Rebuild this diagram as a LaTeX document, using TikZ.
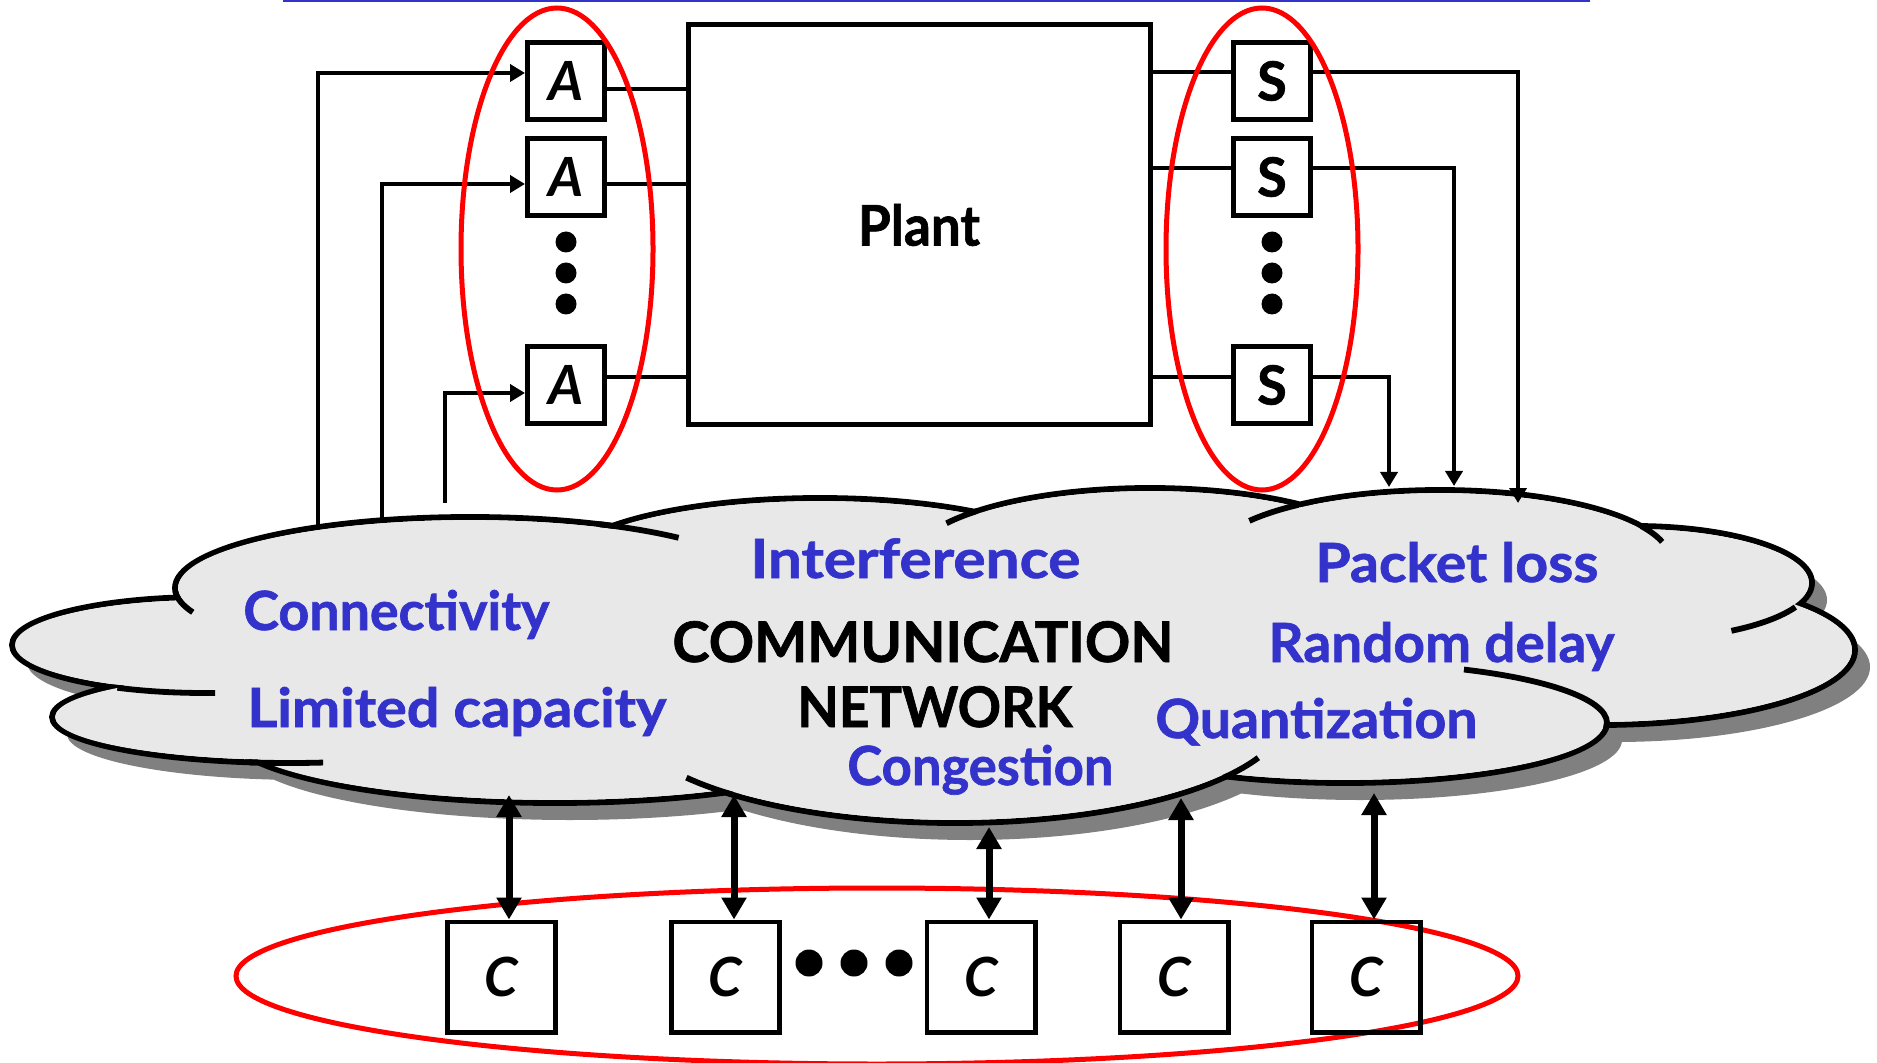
\documentclass[tikz,border=0pt]{standalone}
\usepackage{fontspec}
\usepackage{graphicx}
\setmainfont{Lato}[BoldFeatures={FakeBold=1.2}]
\usetikzlibrary{arrows.meta}
\definecolor{tblue}{RGB}{51,51,204}
\definecolor{cloudfill}{RGB}{232,232,232}
\definecolor{cloudshadow}{RGB}{128,128,128}
\newsavebox\fitbox
\newcommand\fitw[2]{\sbox\fitbox{#2}\pgfmathsetmacro\fitsx{#1/\the\wd\fitbox}\scalebox{\fitsx}[1]{\usebox\fitbox}}
\newcommand\cloudlobes[2]{\path[#1]
 (470,588) ellipse [x radius=295-#2,y radius=71-#2]
 (205,645) ellipse [x radius=193-#2,y radius=48-#2]
 (290,717) ellipse [x radius=238-#2,y radius=46-#2]
 (555,730) ellipse [x radius=331-#2,y radius=73-#2]
 (955,713) ellipse [x radius=332-#2,y radius=110-#2]
 (1345,723) ellipse [x radius=262-#2,y radius=60-#2]
 (1600,650) ellipse [x radius=255-#2,y radius=75-#2]
 (1635,583) ellipse [x radius=177-#2,y radius=57-#2]
 (1440,560) ellipse [x radius=230-#2,y radius=70-#2]
 (1150,563) ellipse [x radius=240-#2,y radius=75-#2]
 (820,568) ellipse [x radius=260-#2,y radius=70-#2];}
\newcommand\cloudcore[1]{\path[#1] (195,605) -- (120,690) -- (265,750) -- (713,780) -- (1233,758) -- (1595,712) -- (1780,611) -- (1646,543) -- (1283,518) -- (967,526) -- (610,540) -- cycle;}
\newcommand\cloudtail[6]{\draw[cloudline] (#1,#2) ++(#5:#3 and #4) arc[start angle=#5, end angle=#6, x radius=#3, y radius=#4];}
\begin{document}
\begin{tikzpicture}[x=0.5pt,y=-0.5pt,
  bigfont/.style={font=\fontsize{27}{30}\selectfont\bfseries},
  abox/.style={draw, line width=2.3pt, minimum size=38.7pt, inner sep=0pt, bigfont},
  cbox/.style={draw, line width=2.3pt, minimum width=54.2pt, minimum height=55.2pt, inner sep=0pt, bigfont},
  plantbox/.style={draw, line width=2.5pt, minimum width=231pt, minimum height=200pt, inner sep=0pt, font=\fontsize{28}{30}\selectfont\bfseries},
  wire/.style={line width=2.2pt},
  arr/.style={wire, -{Triangle[length=7.5pt,width=8.5pt]}},
  bigarr/.style={line width=3.5pt, {Triangle[length=11pt,width=12pt]}-{Triangle[length=11pt,width=12pt]}},
  redring/.style={draw=red, line width=2.5pt},
  smalldot/.style={circle, fill=black, inner sep=0pt, minimum size=10.5pt},
  cdot/.style={circle, fill=black, inner sep=0pt, minimum size=13.5pt},
  cloudline/.style={line width=2.9pt},
  lbl/.style={anchor=base west, inner sep=0pt, text=tblue, font=\fontsize{27}{30}\selectfont\bfseries},
  blk/.style={anchor=base west, inner sep=0pt, text=black, font=\fontsize{28}{30}\selectfont\bfseries}]
\useasboundingbox (0,0) rectangle (1877,1063);
% top rule
\draw[tblue, line width=1.2pt] (283,1) -- (1590,1);
% plant, actuators, sensors
\node[plantbox] (plant) at (919,225) {\fitw{61pt}{Plant}};
\node[abox] (A1) at (566,81) {\itshape A};
\node[abox] (A2) at (566,177) {\itshape A};
\node[abox] (A3) at (566,385) {\itshape A};
\node[abox] (S1) at (1272,81) {S};
\node[abox] (S2) at (1272,177) {S};
\node[abox] (S3) at (1272,385) {S};
\node[smalldot] (da1) at (566,242) {};
\node[smalldot] (da2) at (566,273) {};
\node[smalldot] (da3) at (566,304) {};
\node[smalldot] (ds1) at (1272,242) {};
\node[smalldot] (ds2) at (1272,273) {};
\node[smalldot] (ds3) at (1272,304) {};
\draw[wire] ([yshift=-4pt]A1.east) -- ([yshift=-4pt]A1.east -| plant.west);
\draw[wire] ([yshift=-3.5pt]A2.east) -- ([yshift=-3.5pt]A2.east -| plant.west);
\draw[wire] ([yshift=4pt]A3.east) -- ([yshift=4pt]A3.east -| plant.west);
\draw[wire] ([yshift=4.5pt]S1.west -| plant.east) -- ([yshift=4.5pt]S1.west);
\draw[wire] ([yshift=4.5pt]S2.west -| plant.east) -- ([yshift=4.5pt]S2.west);
\draw[wire] ([yshift=4pt]S3.west -| plant.east) -- ([yshift=4pt]S3.west);
% feedback into actuators
\coordinate (fbA1) at (318,560);
\coordinate (fbA2) at (382,560);
\coordinate (fbA3) at (445,503);
\draw[arr] (fbA1) |- ([yshift=4pt]A1.west);
\draw[arr] (fbA2) |- ([yshift=-3.5pt]A2.west);
\draw[arr] (fbA3) |- ([yshift=-4pt]A3.west);
% cloud
\begin{scope}[shift={(15,17)}]
 \cloudlobes{fill=cloudshadow}{0}
 \cloudcore{fill=cloudshadow}
\end{scope}
\cloudlobes{fill=cloudfill}{0}
\cloudlobes{draw=black, line width=2.9pt}{0}
\cloudlobes{fill=cloudfill}{3.2}
\cloudcore{fill=cloudfill}
\cloudtail{470}{588}{295}{71}{177}{160}
\cloudtail{205}{645}{193}{48}{117}{87}
\cloudtail{290}{717}{238}{46}{100}{82}
\cloudtail{955}{713}{332}{110}{132}{144}
\cloudtail{955}{713}{332}{110}{36}{24}
\cloudtail{1345}{723}{262}{60}{4}{-63}
\cloudtail{1635}{583}{177}{57}{25}{57}
\cloudtail{1440}{560}{230}{70}{-29}{-15}
\cloudtail{1440}{560}{230}{70}{232}{214}
\cloudtail{1150}{563}{240}{75}{224}{212}
\cloudtail{470}{588}{295}{71}{-64}{-45}
% sensor outputs into network
\coordinate (fbS1) at (1518,503);
\coordinate (fbS2) at (1454,486);
\coordinate (fbS3) at (1389,487);
\draw[arr] ([yshift=4.5pt]S1.east) -| (fbS1);
\draw[arr] ([yshift=4.5pt]S2.east) -| (fbS2);
\draw[arr] ([yshift=4pt]S3.east) -| (fbS3);
% cloud texts
\node[lbl] (tInt) at (750,578) {\fitw{165pt}{Interference}};
\node[lbl] (tCon) at (243,630) {\fitw{153pt}{Connectivity}};
\node[lbl] (tLim) at (247,727) {\fitw{209.5pt}{Limited capacity}};
\node[blk] (tComm) at (672,662) {\fitw{250.5pt}{COMMUNICATION}};
\node[blk] (tNet) at (797,727) {\fitw{137.5pt}{NETWORK}};
\node[lbl] (tCong) at (847,785) {\fitw{133pt}{Congestion}};
\node[lbl] (tPk) at (1315,582) {\fitw{141.5pt}{Packet loss}};
\node[lbl] (tRd) at (1268,662) {\fitw{173pt}{Random delay}};
\node[lbl] (tQ) at (1155,738) {\fitw{161pt}{Quantization}};
% controllers
\draw[redring] (877,976) ellipse [x radius=641, y radius=88];
\node[cbox] (C1) at (501.5,977) {\itshape C};
\node[cbox] (C2) at (725.5,977) {\itshape C};
\node[cbox] (C3) at (981,977) {\itshape C};
\node[cbox] (C4) at (1174,977) {\itshape C};
\node[cbox] (C5) at (1366,977) {\itshape C};
\node[cdot] (dc1) at (809,963) {};
\node[cdot] (dc2) at (854,963) {};
\node[cdot] (dc3) at (899,963) {};
\coordinate (ct1) at (509,795);
\coordinate (ct2) at (734,795);
\coordinate (ct3) at (989,827);
\coordinate (ct4) at (1181,798);
\coordinate (ct5) at (1374,793);
\draw[bigarr] (C1.north -| ct1) -- (ct1);
\draw[bigarr] (C2.north -| ct2) -- (ct2);
\draw[bigarr] (C3.north -| ct3) -- (ct3);
\draw[bigarr] (C4.north -| ct4) -- (ct4);
\draw[bigarr] (C5.north -| ct5) -- (ct5);
% groupings
\draw[redring] (557,249) ellipse [x radius=96, y radius=241];
\draw[redring] (1262,249) ellipse [x radius=96, y radius=241];
\end{tikzpicture}
\end{document}
